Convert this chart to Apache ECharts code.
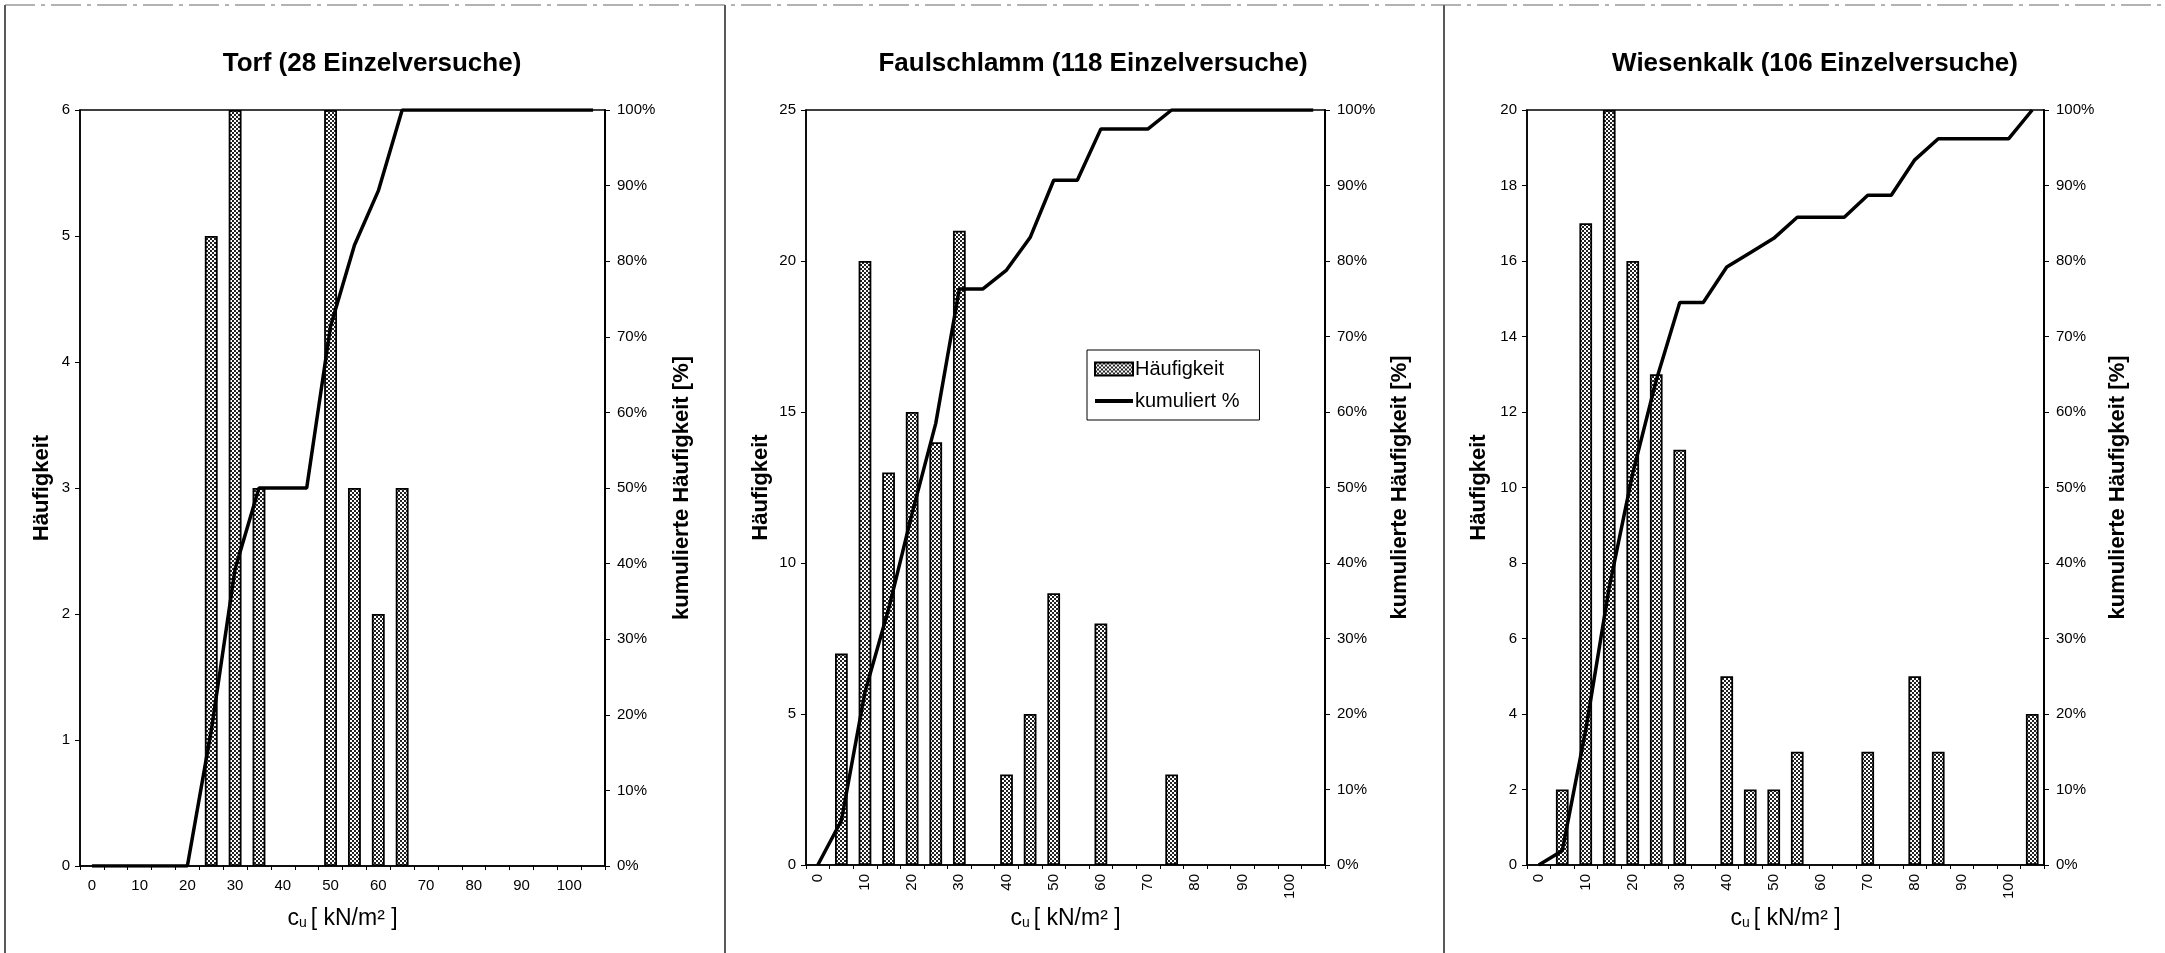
<!DOCTYPE html>
<html><head><meta charset="utf-8">
<script src="https://cdn.jsdelivr.net/npm/echarts/dist/echarts.min.js"></script>
<style>html,body{margin:0;padding:0;background:#fff}#c{width:2165px;height:953px}</style>
</head><body><div id="c"></div>
<script>
// ---- data ----
const categories = ['0','5','10','15','20','25','30','35','40','45','50','55','60','65','70','75','80','85','90','95','100','105'];
const titles = ['Torf (28 Einzelversuche)', 'Faulschlamm (118 Einzelversuche)', 'Wiesenkalk (106 Einzelversuche)'];
const torfCounts = [null,null,null,null,null,5,6,3,null,null,6,3,2,3,null,null,null,null,null,null,null,null];
const torfCum    = [0,0,0,0,0,17.9,39.3,50,50,50,71.4,82.1,89.3,100,100,100,100,100,100,100,100,100];
const faulCounts = [null,7,20,13,15,14,21,null,3,5,9,null,8,null,null,3,null,null,null,null,null,null];
const faulCum    = [0,5.9,22.9,33.9,46.6,58.5,76.3,76.3,78.8,83.1,90.7,90.7,97.5,97.5,97.5,100,100,100,100,100,100,100];
const wiesCounts = [null,2,17,20,16,13,11,null,5,2,2,3,null,null,3,null,5,3,null,null,null,4];
const wiesCum    = [0,1.9,17.9,36.8,51.9,64.2,74.5,74.5,79.2,81.1,83.0,85.8,85.8,85.8,88.7,88.7,93.4,96.2,96.2,96.2,96.2,100];
const leftMax = [6, 25, 20];
const leftInterval = [1, 5, 2];
const pctTicks = [0,10,20,30,40,50,60,70,80,90,100];
const yNameLeft = 'Häufigkeit';
const yNameRight = 'kumulierte Häufigkeit [%]';
const barName = 'Häufigkeit';
const lineName = 'kumuliert %';

// ---- style / layout ----
const NARROW = "'Liberation Sans Narrow','Arial Narrow','Liberation Sans',Arial,sans-serif";
const SANS = "'Liberation Sans',Arial,sans-serif";
const grids = [
  {left: 80, top: 110, width: 525, height: 756},
  {left: 806, top: 110, width: 519, height: 755},
  {left: 1527, top: 110, width: 517, height: 755}
];
const titleX = [367, 1088, 1810];
const leftGap = [27, 34, 37];
const rightGap = [66, 64, 63];
const rotateX = [0, 90, 90];

function makePattern() {
  const c = document.createElement('canvas');
  c.width = 4; c.height = 4;
  const g = c.getContext('2d');
  g.fillStyle = '#ffffff'; g.fillRect(0, 0, 4, 4);
  g.fillStyle = '#222222'; g.fillRect(0, 0, 2, 2); g.fillRect(2, 2, 2, 2);
  return c;
}
const pattern = {image: makePattern(), repeat: 'repeat'};

const countsArr = [torfCounts, faulCounts, wiesCounts];
const cumArr = [torfCum, faulCum, wiesCum];

const option = {
  backgroundColor: '#fff',
  animation: false,
  title: titles.map((t, i) => ({
    text: t, left: titleX[i], top: 46, textAlign: 'center',
    textStyle: {fontFamily: SANS, fontWeight: 'bold', fontSize: 26, color: '#000'}
  })),
  grid: grids.map(g => Object.assign({show: true, borderColor: '#000', borderWidth: 1.5, backgroundColor: 'transparent', containLabel: false}, g)),
  legend: {
    data: [
      {name: barName, icon: 'rect'},
      {name: lineName, icon: 'path://M0,0 L38,0 L38,4 L0,4 Z', itemStyle: {color: '#000', borderWidth: 0}}
    ],
    orient: 'vertical',
    left: 1087, top: 350,
    padding: [9, 20, 9, 7],
    itemGap: 12,
    itemWidth: 38, itemHeight: 13,
    borderColor: '#000', borderWidth: 1, backgroundColor: '#fff',
    textStyle: {fontFamily: SANS, fontSize: 20, color: '#000', padding: [0, 0, 0, -3]},
    selectedMode: false
  },
  xAxis: [0,1,2].map(i => ({
    type: 'category', gridIndex: i, data: categories, boundaryGap: true,
    axisLine: {lineStyle: {color: '#000', width: 1.5}},
    axisTick: {show: true, interval: 0, length: 4, lineStyle: {color: '#000'}},
    axisLabel: {interval: 1, rotate: rotateX[i], margin: rotateX[i] ? 9 : 12, fontFamily: NARROW, fontSize: 15, color: '#000'},
    name: '{c|c}{u|u}{t|[ kN/m² ]}', nameLocation: 'middle', nameGap: 38,
    nameTextStyle: {
      rich: {
        c: {fontFamily: SANS, fontSize: 23, color: '#000', lineHeight: 26, verticalAlign: 'bottom'},
        u: {fontFamily: SANS, fontSize: 14, color: '#000', lineHeight: 10, verticalAlign: 'bottom'},
        t: {fontFamily: SANS, fontSize: 23, color: '#000', lineHeight: 26, verticalAlign: 'bottom', padding: [0, 0, 0, 4]}
      }
    }
  })),
  yAxis: [].concat(...[0,1,2].map(i => ([
    {
      type: 'value', gridIndex: i, position: 'left', min: 0, max: leftMax[i], interval: leftInterval[i],
      splitLine: {show: false},
      axisLine: {show: true, lineStyle: {color: '#000', width: 1.5}},
      axisTick: {show: true, length: 5, lineStyle: {color: '#000'}},
      axisLabel: {margin: 10, fontFamily: NARROW, fontSize: 15, color: '#000'},
      name: yNameLeft, nameLocation: 'middle', nameRotate: 90, nameGap: leftGap[i],
      nameTextStyle: {fontFamily: SANS, fontWeight: 'bold', fontSize: 22, color: '#000'}
    },
    {
      type: 'value', gridIndex: i, position: 'right', min: 0, max: 100, interval: 10,
      splitLine: {show: false},
      axisLine: {show: true, lineStyle: {color: '#000', width: 2}},
      axisTick: {show: true, length: 5, lineStyle: {color: '#000'}},
      axisLabel: {margin: 12, fontFamily: NARROW, fontSize: 15, color: '#000', formatter: v => pctTicks.includes(v) ? v + '%' : ''},
      name: yNameRight, nameLocation: 'middle', nameRotate: 90, nameGap: rightGap[i],
      nameTextStyle: {fontFamily: SANS, fontWeight: 'bold', fontSize: 22, color: '#000'}
    }
  ]))),
  series: [].concat(...[0,1,2].map(i => ([
    {
      name: barName, type: 'bar', xAxisIndex: i, yAxisIndex: 2 * i, data: countsArr[i],
      barWidth: '54%',
      itemStyle: {color: pattern, borderColor: '#000', borderWidth: 1.8}
    },
    {
      name: lineName, type: 'line', xAxisIndex: i, yAxisIndex: 2 * i + 1, data: cumArr[i],
      symbol: 'none', showSymbol: false,
      lineStyle: {color: '#000', width: 3.5},
      itemStyle: {color: '#000'}
    }
  ]))),
  graphic: [
    {type: 'line', shape: {x1: 5, y1: 5, x2: 5, y2: 953}, style: {stroke: '#222', lineWidth: 1.5}},
    {type: 'line', shape: {x1: 725, y1: 5, x2: 725, y2: 953}, style: {stroke: '#222', lineWidth: 1.5}},
    {type: 'line', shape: {x1: 1444, y1: 5, x2: 1444, y2: 953}, style: {stroke: '#222', lineWidth: 1.5}},
    {type: 'line', shape: {x1: 5, y1: 5, x2: 2165, y2: 5}, style: {stroke: '#666', lineWidth: 1, lineDash: [30, 6, 4, 6]}}
  ]
};
const chart = echarts.init(document.getElementById('c'), null, {renderer: 'canvas'});
chart.setOption(option);
</script>
</body></html>
